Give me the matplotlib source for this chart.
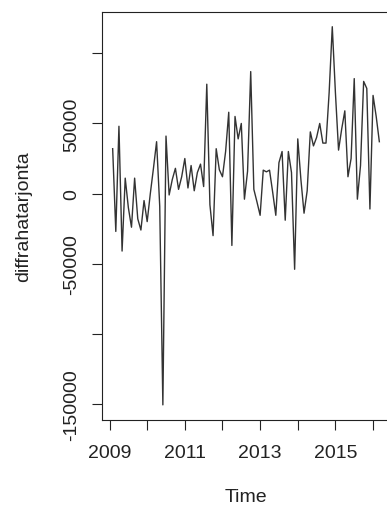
import numpy as np
import matplotlib
matplotlib.use("Agg")
import matplotlib.pyplot as plt

# monthly series, Feb 2009 - Mar 2016
start_year = 2009
start_month = 2
values = [
    32000, -27000, 48000, -41000, 11000, -10000, -24000, 11000, -18000, -26000,
    -5000, -20000, 0, 18000, 37000, -9000, -150700, 41000, -1000, 10000,
    18000, 3000, 12000, 25000, 4000, 20000, 2000, 15000, 21000, 5000,
    78000, -8000, -30000, 32000, 17000, 12000, 30000, 58000, -37000, 55000,
    39000, 50000, -4000, 16000, 87000, 3000, -6000, -15500, 16700, 15500,
    16700, 1000, -15500, 22000, 30000, -19000, 30000, 15000, -54000, 39000,
    10000, -14000, 2000, 44000, 34000, 40000, 50000, 36000, 36000, 72000,
    119000, 72000, 31000, 46000, 59000, 12000, 25000, 82000, -4000, 20000,
    80000, 75000, -11000, 70000, 55000, 37000,
]

x_ticks = [2009, 2010, 2011, 2012, 2013, 2014, 2015, 2016]
x_labels = ["2009", "", "2011", "", "2013", "", "2015", ""]
y_ticks = [-150000, -100000, -50000, 0, 50000, 100000]
y_labels = ["-150000", "", "-50000", "0", "50000", ""]

t = start_year + (start_month - 1 + np.arange(len(values))) / 12

plt.rcParams["font.family"] = ["Liberation Sans", "DejaVu Sans"]
plt.rcParams["font.size"] = 14

fig = plt.figure(figsize=(3.87, 5.10), dpi=100)
ax = fig.add_axes([102 / 387, 89 / 510, 288 / 387, 408 / 510])

ax.plot(t, values, color="#333333", linewidth=1.0)

# R style ranges: data range plus 4 %
ax.set_xlim(2008.8, 2016.45)
ax.set_ylim(-161500, 129500)

ax.set_xticks(x_ticks)
ax.set_xticklabels(x_labels)
ax.set_yticks(y_ticks)
ax.set_yticklabels(y_labels, rotation=90, va="center")

ax.tick_params(axis="both", direction="out", length=7, width=0.8,
               colors="#222222", labelcolor="#222222")
ax.tick_params(axis="x", pad=10)
ax.tick_params(axis="y", pad=9)

for s in ax.spines.values():
    s.set_linewidth(0.8)
    s.set_color("#222222")

ax.set_xlabel("Time", color="#222222", labelpad=20)
ax.set_ylabel("diffrahatarjonta", color="#222222", labelpad=22)

fig.savefig("out.png", dpi=100)
